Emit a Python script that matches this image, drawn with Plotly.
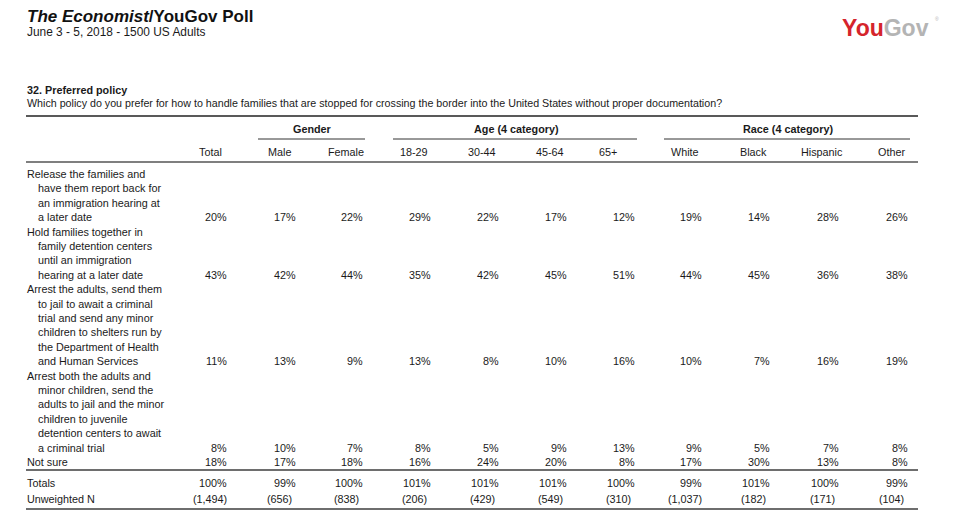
import plotly.graph_objects as go

# ---------------- data ----------------
title_main = "The Economist"
title_rest = "/YouGov Poll"
subtitle = "June 3 - 5, 2018 - 1500 US Adults"
question_no = "32. Preferred policy"
question = ("Which policy do you prefer for how to handle families that are stopped for "
            "crossing the border into the United States without proper documentation?")

columns = ["Total", "Male", "Female", "18-29", "30-44", "45-64", "65+",
           "White", "Black", "Hispanic", "Other"]
groups = ["Gender", "Age (4 category)", "Race (4 category)"]
group_members = [["Male", "Female"], ["18-29", "30-44", "45-64", "65+"],
                 ["White", "Black", "Hispanic", "Other"]]

row_labels = [
    ["Release the families and", "have them report back for",
     "an immigration hearing at", "a later date"],
    ["Hold families together in", "family detention centers",
     "until an immigration", "hearing at a later date"],
    ["Arrest the adults, send them", "to jail to await a criminal",
     "trial and send any minor", "children to shelters run by",
     "the Department of Health", "and Human Services"],
    ["Arrest both the adults and", "minor children, send the",
     "adults to jail and the minor", "children to juvenile",
     "detention centers to await", "a criminal trial"],
    ["Not sure"],
]
release_families = [20, 17, 22, 29, 22, 17, 12, 19, 14, 28, 26]
hold_families = [43, 42, 44, 35, 42, 45, 51, 44, 45, 36, 38]
arrest_adults = [11, 13, 9, 13, 8, 10, 16, 10, 7, 16, 19]
arrest_both = [8, 10, 7, 8, 5, 9, 13, 9, 5, 7, 8]
not_sure = [18, 17, 18, 16, 24, 20, 8, 17, 30, 13, 8]
row_values = [release_families, hold_families, arrest_adults, arrest_both, not_sure]

totals = [100, 99, 100, 101, 101, 101, 100, 99, 101, 100, 99]
unweighted_n = [1494, 656, 838, 206, 429, 549, 310, 1037, 182, 171, 104]

# ---------------- layout (pixel space) ----------------
W, H = 960, 518
FONT = "Liberation Sans, Arial, Helvetica, sans-serif"
TXT = "#1a1a1a"
FS = 10.8
LEFT = 26
INDENT = 37
RIGHT = 918
col_right = [229, 298, 365, 433, 501, 569, 637, 704, 772, 841, 910]
col_center = [r - 19 for r in col_right]
header_x = list(col_center)
header_x[columns.index("65+")] = 608
row_top = 174
line_h = 14.4

fig = go.Figure()
ann = []
shapes = []


def text(x, y, s, size=FS, bold=False, italic=False, xanchor="left", color=TXT):
    if bold:
        s = "<b>" + s + "</b>"
    if italic:
        s = "<i>" + s + "</i>"
    ann.append(dict(x=x, y=y, xref="x", yref="y", text=s, showarrow=False,
                    xanchor=xanchor, yanchor="middle",
                    font=dict(family=FONT, size=size, color=color)))


def hline(x0, x1, y, color, width):
    shapes.append(dict(type="line", xref="x", yref="y", x0=x0, x1=x1, y0=y, y1=y,
                       line=dict(color=color, width=width)))


# title block
text(LEFT - 1, 16, "<b><i>" + title_main + "</i>" + title_rest + "</b>", size=17, color="#111")
text(LEFT - 1, 32, subtitle, size=11.9)
text(LEFT - 1, 90, question_no, bold=True)
text(LEFT - 1, 103, question, size=10.7)

# logo
text(931, 28, "<b><span style='color:#d5242c'>You</span>"
     "<span style='color:#b4b4b4'>Gov</span></b>", size=23, xanchor="right")
text(933, 19, "®", size=5, color="#b4b4b4")

# rules
hline(LEFT, RIGHT, 116, "#222222", 1.3)
hline(LEFT, RIGHT, 162, "#555555", 1.6)

# group headers
for g, members in zip(groups, group_members):
    i0 = columns.index(members[0])
    i1 = columns.index(members[-1])
    text((col_center[i0] + col_center[i1]) / 2, 129, g, bold=True, xanchor="center")
    hline(col_right[i0] - 40, col_right[i1], 139, "#333333", 1)

# column headers
for c, hx in zip(columns, header_x):
    text(hx, 152, c, xanchor="center")

# body rows
y = row_top
for labels, vals in zip(row_labels, row_values):
    for k, lab in enumerate(labels):
        text((LEFT if k == 0 else INDENT) - 1, y + k * line_h, lab)
    ylast = y + (len(labels) - 1) * line_h
    for v, xr in zip(vals, col_right):
        text(xr, ylast, f"{v}%", xanchor="right")
    y += len(labels) * line_h

hline(LEFT, RIGHT, 470, "#6e6e6e", 2)
text(LEFT - 1, 483, "Totals")
for v, xr in zip(totals, col_right):
    text(xr, 483, f"{v}%", xanchor="right")
text(LEFT - 1, 499, "Unweighted N")
for v, xc in zip(unweighted_n, col_center):
    text(xc, 499, f"({v:,})", xanchor="center")
hline(LEFT, RIGHT, 509, "#6e6e6e", 2)

fig.update_layout(
    width=W, height=H, autosize=False,
    margin=dict(l=0, r=0, t=0, b=0),
    paper_bgcolor="white", plot_bgcolor="white",
    xaxis=dict(range=[0, W], visible=False, fixedrange=True),
    yaxis=dict(range=[H, 0], visible=False, fixedrange=True),
    annotations=ann, shapes=shapes, showlegend=False,
)
fig.write_html("out.html", config={"displayModeBar": False},
               post_script="document.body.style.margin='0';document.body.style.overflow='hidden';")
